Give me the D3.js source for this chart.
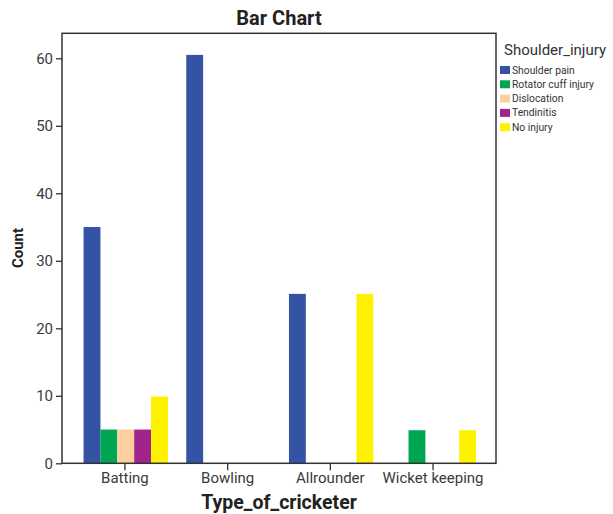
<!DOCTYPE html>
<html><head><meta charset="utf-8">
<script src="https://cdn.jsdelivr.net/npm/d3@7"></script>
<style>body{margin:0;background:#fff;} text{font-family:Roboto, "Noto Sans", sans-serif;}</style>
</head><body>
<svg id="chart" width="613" height="514"></svg>
<script>
const categories = ["Batting", "Bowling", "Allrounder", "Wicket keeping"];
const injuries = ["Shoulder pain", "Rotator cuff injury", "Dislocation", "Tendinitis", "No injury"];
const shoulderPain = [35, 60.5, 25.1, 0];
const rotatorCuff = [5, 0, 0, 4.9];
const dislocation = [5, 0, 0, 0];
const tendinitis = [5, 0, 0, 0];
const noInjury = [9.9, 0, 25.1, 4.9];
const yTicks = [0, 10, 20, 30, 40, 50, 60];
const colors = ["#3453A4", "#00A651", "#FDCF9E", "#A0248C", "#FFF200"];

const seriesValues = [shoulderPain, rotatorCuff, dislocation, tendinitis, noInjury];
const data = categories.map((c, i) => ({cat: c, vals: injuries.map((s, j) => ({key: s, value: seriesValues[j][i]}))}));

const svg = d3.select("#chart");
const L = 62, R = 496, T = 33.3, B = 463.3;

const x0 = d3.scaleBand().domain(categories).range([L, R]).paddingInner(0).paddingOuter(0.113);
const groupW = 84.4;
const x1 = d3.scaleBand().domain(injuries).range([0, groupW]).padding(0);
const y = d3.scaleLinear().domain([0, 63.7]).range([B, T]);
const color = d3.scaleOrdinal().domain(injuries).range(colors);

// bars
const g = svg.append("g");
g.selectAll("g.grp").data(data).join("g")
  .attr("transform", d => `translate(${x0(d.cat) + x0.bandwidth()/2 - groupW/2 + 0.8},0)`)
  .selectAll("rect").data(d => d.vals.filter(v => v.value > 0)).join("rect")
  .attr("x", d => x1(d.key))
  .attr("width", x1.bandwidth())
  .attr("y", d => y(d.value))
  .attr("height", d => y(0) - y(d.value))
  .attr("fill", d => color(d.key));

// frame
svg.append("rect").attr("x", L).attr("y", T).attr("width", R - L).attr("height", B - T)
  .attr("fill", "none").attr("stroke", "#333").attr("stroke-width", 1.5);

// y axis
const yAxis = svg.append("g").attr("transform", `translate(${L},0)`)
  .call(d3.axisLeft(y).tickValues(yTicks).tickSize(6).tickPadding(3).tickFormat(d3.format("d")));
yAxis.select(".domain").remove();
yAxis.selectAll("line").attr("stroke", "#333").attr("stroke-width", 1.3);
yAxis.selectAll("text").attr("font-size", 15).attr("fill", "#3a3a3a");

// x axis
const xAxis = svg.append("g").attr("transform", `translate(0,${B})`)
  .call(d3.axisBottom(x0).tickSize(7).tickPadding(2));
xAxis.select(".domain").remove();
xAxis.selectAll("line").attr("stroke", "#333").attr("stroke-width", 1.3);
xAxis.selectAll("text").attr("font-size", 15).attr("fill", "#3a3a3a");

// titles
svg.append("text").attr("x", 279).attr("y", 25).attr("text-anchor", "middle")
  .attr("font-size", 20).attr("font-weight", "bold").attr("fill", "#222").text("Bar Chart");
svg.append("text").attr("x", 279).attr("y", 509).attr("text-anchor", "middle")
  .attr("font-size", 19.5).attr("font-weight", "bold").attr("fill", "#222").text("Type_of_cricketer");
svg.append("text").attr("transform", "translate(23,248) rotate(-90)").attr("text-anchor", "middle")
  .attr("font-size", 15).attr("font-weight", "bold").attr("fill", "#222").text("Count");

// legend
svg.append("text").attr("x", 504).attr("y", 55).attr("font-size", 15).attr("fill", "#333").text("Shoulder_injury");
const leg = svg.append("g").selectAll("g").data(injuries).join("g")
  .attr("transform", (d, i) => `translate(500,${66 + i * 14.3})`);
leg.append("rect").attr("width", 10).attr("height", 8).attr("fill", d => color(d));
leg.append("text").attr("x", 12).attr("y", 7.5).attr("font-size", 10.3).attr("fill", "#333").text(d => d);
</script>
</body></html>
